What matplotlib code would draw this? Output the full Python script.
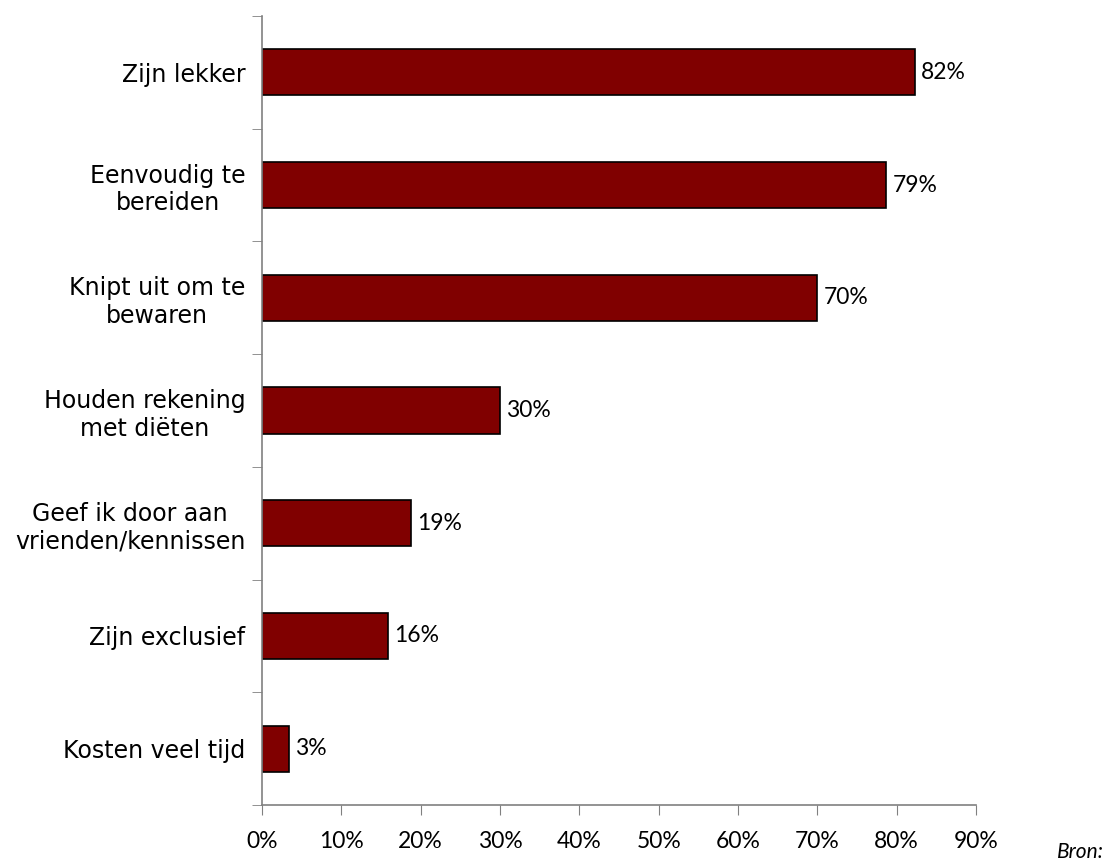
import matplotlib
matplotlib.use("Agg")
import matplotlib.pyplot as plt
import numpy as np

categories = [
    "Zijn lekker",
    "Eenvoudig te\nbereiden",
    "Knipt uit om te\nbewaren",
    "Houden rekening\nmet diëten",
    "Geef ik door aan\nvrienden/kennissen",
    "Zijn exclusief",
    "Kosten veel tijd",
]
values = [82.3, 78.7, 70.0, 30.0, 18.8, 15.9, 3.4]
xticks = [0, 10, 20, 30, 40, 50, 60, 70, 80, 90]

plt.rcParams['font.family'] = ['Lato', 'DejaVu Sans']

fig = plt.figure(figsize=(11.11, 8.61), dpi=100)
ax = fig.add_axes([262 / 1111, 56 / 861, (976 - 262) / 1111, (845 - 56) / 861])

y = np.arange(len(categories))
ax.barh(y, values, height=0.41, color='#800000', edgecolor='black', linewidth=1.2)

for yi, v in zip(y, values):
    ax.text(v + 0.8, yi, f"{round(v)}%", va='center', ha='left', fontsize=16.5)

ax.set_xlim(0, 90)
ax.set_ylim(len(categories) - 0.5, -0.5)

ax.set_xticks(xticks)
ax.set_xticklabels([f"{t}%" for t in xticks], fontsize=16.5)
ax.set_yticks(y)
ax.set_yticklabels(categories, fontsize=17, family=['DejaVu Sans'],
                   multialignment='center', linespacing=1.2)
ax.set_yticks(np.arange(len(categories) + 1) - 0.5, minor=True)

ax.tick_params(axis='y', which='major', length=0, pad=12)
ax.tick_params(axis='y', which='minor', length=7, color='#808080', direction='out')
ax.tick_params(axis='x', length=7, color='#808080', direction='out', pad=12)

for side in ['top', 'right']:
    ax.spines[side].set_visible(False)
for side in ['left', 'bottom']:
    ax.spines[side].set_color('#808080')
    ax.spines[side].set_linewidth(1.2)

fig.text(1057 / 1111, 1 - 852 / 861, "Bron:", fontsize=15, style='italic', va='center', ha='left')

fig.savefig("out.png", dpi=100)
